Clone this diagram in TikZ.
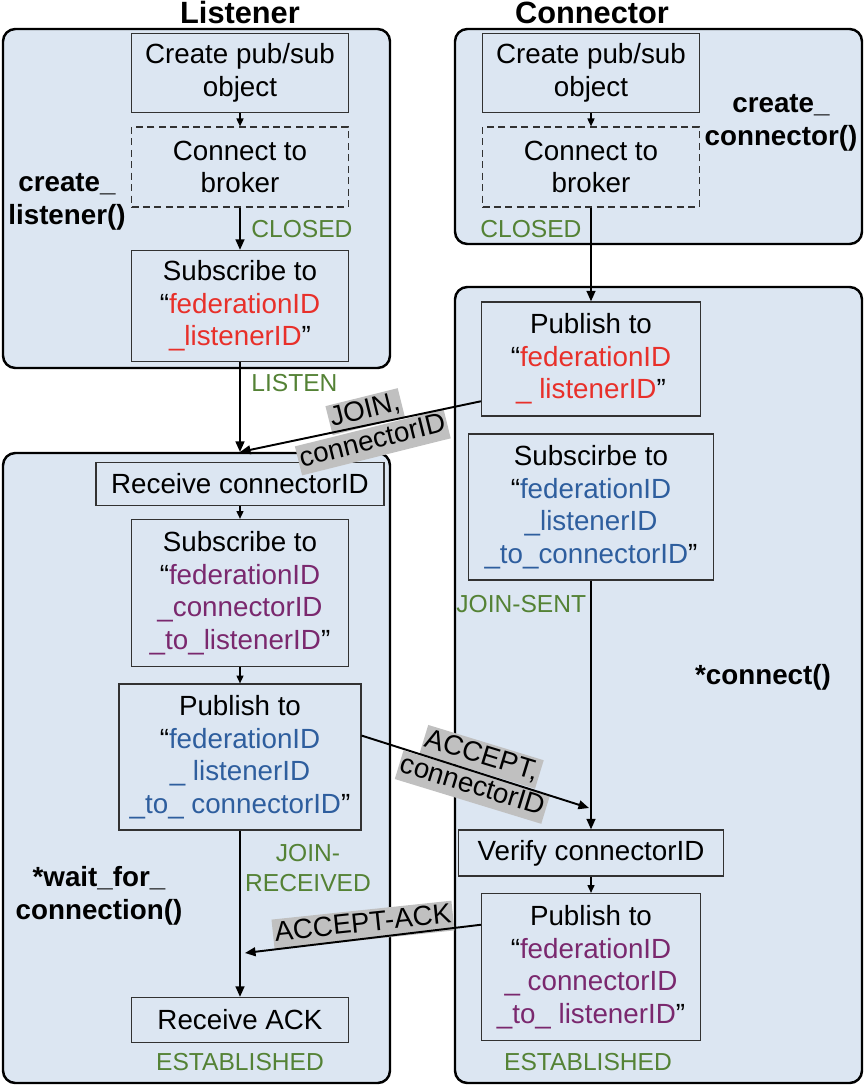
\documentclass[tikz,border=0pt]{standalone}
\usepackage{fontspec}
\setmainfont{Liberation Sans}
\usetikzlibrary{arrows.meta}

\definecolor{panelblue}{RGB}{220,230,242}
\definecolor{idred}{RGB}{232,48,42}
\definecolor{idblue}{RGB}{46,94,158}
\definecolor{idpurple}{RGB}{122,40,110}
\definecolor{stategreen}{RGB}{84,130,53}
\definecolor{msggray}{RGB}{192,192,192}
\definecolor{boxline}{RGB}{50,50,50}

\newcommand{\msgline}[1]{{\setlength{\fboxsep}{1pt}\colorbox{msggray}{\rule[-3.6pt]{0pt}{15pt}#1}}}

\begin{document}
\begin{tikzpicture}[x=0.02cm, y=-0.02cm,
	panel/.style={draw=black, line width=1.4pt, rounded corners=7pt, fill=panelblue},
	stepbox/.style={draw=boxline, line width=0.7pt, align=center, inner sep=0pt, font=\fontsize{15.8}{18.5}\selectfont},
	brokerbox/.style={stepbox, dash pattern=on 4pt off 2.5pt},
	state/.style={text=stategreen, align=center, inner sep=0pt, font=\fontsize{14}{17}\selectfont},
	call/.style={align=center, inner sep=0pt, font=\fontsize{15.8}{18.7}\selectfont\bfseries},
	title/.style={inner sep=0pt, font=\fontsize{17.5}{20}\selectfont\bfseries},
	msg/.style={align=center, inner sep=0pt, font=\fontsize{15.8}{18}\selectfont},
	flow/.style={-{Triangle[length=6pt,width=5pt]}, line width=1.1pt},
	hop/.style={-{Triangle[length=4.5pt,width=4pt]}, line width=0.8pt}]
	
	\useasboundingbox (0,0) rectangle (867,1089);
	
	\draw[panel] (3,29) rectangle (390,368);
	\draw[panel] (455,29) rectangle (862,244);
	\draw[panel] (455,287) rectangle (862,1083);
	\draw[panel] (3,453) rectangle (390,1083);
	
	\node[title, anchor=base] (ltitle) at (240,23) {Listener};
	\node[title, anchor=base] (rtitle) at (592,23) {Connector};
	
	\node[stepbox, minimum width=4.34cm, minimum height=1.58cm] (L1) at (240,73)  {Create pub/sub\\object};
	\node[brokerbox, minimum width=4.34cm, minimum height=1.60cm] (L2) at (240,167) {Connect to\\broker};
	\node[stepbox, minimum width=4.34cm, minimum height=2.22cm] (L3) at (240,306) {Subscribe to\\“\textcolor{idred}{federationID}\\\textcolor{idred}{\_listenerID}”};
	\node[stepbox, minimum width=5.76cm, minimum height=0.86cm] (L4) at (240,484) {Receive connectorID};
	\node[stepbox, minimum width=4.34cm, minimum height=2.94cm] (L5) at (240,593) {Subscribe to\\“\textcolor{idpurple}{federationID}\\\textcolor{idpurple}{\_connectorID}\\\textcolor{idpurple}{\_to\_listenerID}”};
	\node[stepbox, minimum width=4.84cm, minimum height=2.92cm] (L6) at (240,757) {Publish to\\“\textcolor{idblue}{federationID}\\\textcolor{idblue}{\_ listenerID}\\\textcolor{idblue}{\_to\_ connectorID}”};
	\node[stepbox, minimum width=4.34cm, minimum height=0.90cm] (L7) at (240,1020) {Receive ACK};
	
	\node[stepbox, minimum width=4.34cm, minimum height=1.58cm] (R1) at (591,73)  {Create pub/sub\\object};
	\node[brokerbox, minimum width=4.34cm, minimum height=1.60cm] (R2) at (591,167) {Connect to\\broker};
	\node[stepbox, minimum width=4.38cm, minimum height=2.28cm] (R3) at (591,359) {Publish to\\“\textcolor{idred}{federationID}\\\textcolor{idred}{\_ listenerID}”};
	\node[stepbox, minimum width=4.90cm, minimum height=2.92cm] (R4) at (591,507) {Subscirbe to\\“\textcolor{idblue}{federationID}\\\textcolor{idblue}{\_listenerID}\\\textcolor{idblue}{\_to\_connectorID}”};
	\node[stepbox, minimum width=5.30cm, minimum height=0.92cm] (R5) at (591,853) {Verify connectorID};
	\node[stepbox, minimum width=4.38cm, minimum height=2.94cm] (R6) at (591,967) {Publish to\\“\textcolor{idpurple}{federationID}\\\textcolor{idpurple}{\_ connectorID}\\\textcolor{idpurple}{\_to\_ listenerID}”};
	
	\node[call] (lcall) at (67,202) {create\_\\listener()};
	\node[call] (rcall) at (781,123) {create\_\\connector()};
	\node[call] (wcall) at (99,896) {*wait\_for\_\\connection()};
	\node[call] (ccall) at (763,677) {*connect()};
	
	\node[state, anchor=west] (lclosed) at (251,229) {CLOSED};
	\node[state, anchor=west] (rclosed) at (480,229) {CLOSED};
	\node[state, anchor=west] (listen) at (251,383) {LISTEN};
	\node[state, anchor=west] (joinsent) at (456,604) {JOIN-SENT};
	\node[state] (joinrecv) at (308,868) {JOIN-\\RECEIVED};
	\node[state] (lestab) at (240,1062) {ESTABLISHED};
	\node[state] (restab) at (588,1062) {ESTABLISHED};
	
	\node[msg, rotate=14] (joinmsg) at (369,427) {\msgline{JOIN,}\\\msgline{connectorID}};
	\node[msg, rotate=-17] (acceptmsg) at (477,772) {\msgline{ACCEPT,}\\\msgline{connectorID}};
	\node[msg, rotate=6] (ackmsg) at (363,925) {\msgline{ACCEPT-ACK}};
	
	\coordinate (listenin) at (240,452);
	\coordinate (acceptin) at (589,808);
	\coordinate (ackin) at (245,953);
	
	\path[hop] (L1) edge (L2);
	\path[flow] (L2) edge (L3);
	\path[flow] (L3) edge (listenin);
	\path[flow] (R3.201) edge (listenin);
	\path[hop] (L4) edge (L5);
	\path[hop] (L5) edge (L6);
	\path[flow] (L6) edge (L7);
	\path[flow] (L6.10) edge (acceptin);
	
	\path[hop] (R1) edge (R2);
	\path[flow] (R2) edge (R3);
	\path[flow] (R4) edge (R5);
	\path[hop] (R5) edge (R6);
	\path[flow] (R6.159) edge (ackin);
	
\end{tikzpicture}
\end{document}
